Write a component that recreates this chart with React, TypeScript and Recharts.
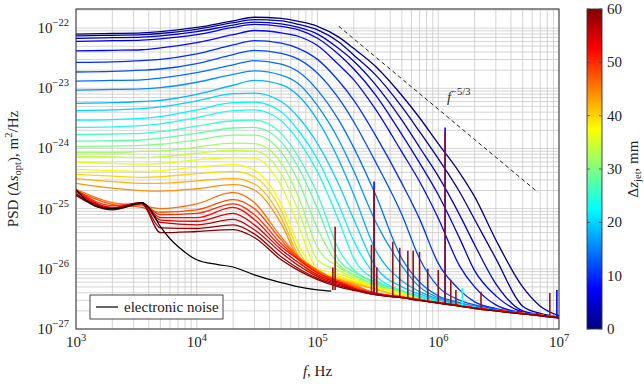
import React from 'react';
import { LineChart, Line, XAxis, YAxis, CartesianGrid, ReferenceDot } from 'recharts';

// frequency grid (Hz) shared by all Δz_jet curves
const FREQS = [1e3, 2e3, 3.5e3, 5e3, 1e4, 2e4, 3e4, 5e4, 7e4, 1e5, 1.5e5, 2e5, 3e5, 5e5, 7e5, 1e6, 1.5e6, 2e6, 3e6, 5e6, 7e6, 1e7];

// Δz_jet of each curve, mm
const DZ = [0, 2, 4, 6, 8, 10, 12, 14, 16, 18, 20, 22, 24, 26, 28, 30, 32, 34, 36, 38, 40, 42, 44, 46, 48, 50, 52, 54, 56, 58, 60];

// log10 PSD at FREQS, one array per Δz_jet
const psd00 = [-22.10, -22.09, -22.08, -22.06, -21.99, -21.88, -21.82, -21.84, -21.89, -21.97, -22.15, -22.34, -22.63, -23.12, -23.49, -23.92, -24.40, -24.80, -25.52, -26.30, -26.62, -26.78];
const psd02 = [-22.13, -22.12, -22.11, -22.09, -22.02, -21.91, -21.86, -21.88, -21.94, -22.03, -22.23, -22.45, -22.77, -23.31, -23.72, -24.17, -24.72, -25.18, -25.83, -26.62, -26.74, -26.80];
const psd04 = [-22.17, -22.16, -22.15, -22.13, -22.06, -21.95, -21.90, -21.93, -21.99, -22.10, -22.34, -22.55, -22.93, -23.53, -23.98, -24.46, -25.10, -25.60, -26.25, -26.70, -26.76, -26.81];
const psd06 = [-22.22, -22.21, -22.20, -22.18, -22.11, -21.99, -21.94, -21.97, -22.03, -22.17, -22.44, -22.68, -23.10, -23.77, -24.24, -24.77, -25.49, -26.03, -26.45, -26.72, -26.77, -26.81];
const psd08 = [-22.38, -22.37, -22.36, -22.33, -22.24, -22.11, -22.04, -22.08, -22.14, -22.29, -22.61, -22.86, -23.34, -24.06, -24.55, -25.16, -25.95, -26.30, -26.60, -26.73, -26.77, -26.81];
const psd10 = [-22.57, -22.56, -22.54, -22.52, -22.43, -22.28, -22.21, -22.25, -22.34, -22.52, -22.88, -23.20, -23.77, -24.58, -25.17, -25.91, -26.35, -26.55, -26.66, -26.73, -26.77, -26.81];
const psd12 = [-22.73, -22.72, -22.70, -22.68, -22.59, -22.44, -22.37, -22.42, -22.52, -22.75, -23.17, -23.56, -24.21, -25.10, -25.83, -26.30, -26.52, -26.60, -26.67, -26.73, -26.77, -26.81];
const psd14 = [-22.88, -22.87, -22.86, -22.83, -22.74, -22.61, -22.54, -22.60, -22.73, -23.03, -23.53, -23.99, -24.75, -25.83, -26.22, -26.45, -26.56, -26.62, -26.68, -26.74, -26.77, -26.81];
const psd16 = [-23.03, -23.02, -23.01, -22.99, -22.90, -22.77, -22.71, -22.78, -22.93, -23.29, -23.86, -24.38, -25.20, -25.95, -26.30, -26.48, -26.57, -26.63, -26.69, -26.74, -26.77, -26.81];
const psd18 = [-23.25, -23.24, -23.22, -23.20, -23.10, -22.95, -22.87, -22.94, -23.13, -23.53, -24.19, -24.77, -25.67, -26.20, -26.38, -26.50, -26.58, -26.63, -26.69, -26.74, -26.77, -26.81];
const psd20 = [-23.37, -23.36, -23.34, -23.31, -23.21, -23.09, -23.08, -23.22, -23.49, -23.92, -24.60, -25.18, -25.95, -26.30, -26.42, -26.52, -26.59, -26.64, -26.69, -26.74, -26.77, -26.81];
const psd22 = [-23.53, -23.52, -23.50, -23.47, -23.36, -23.24, -23.23, -23.39, -23.71, -24.18, -24.94, -25.54, -26.10, -26.36, -26.45, -26.54, -26.60, -26.64, -26.69, -26.74, -26.77, -26.81];
const psd24 = [-23.65, -23.64, -23.62, -23.59, -23.49, -23.37, -23.36, -23.54, -23.88, -24.39, -25.20, -25.83, -26.18, -26.38, -26.47, -26.55, -26.60, -26.64, -26.69, -26.74, -26.77, -26.81];
const psd26 = [-23.77, -23.76, -23.75, -23.72, -23.63, -23.54, -23.53, -23.75, -24.15, -24.76, -25.68, -26.02, -26.22, -26.37, -26.49, -26.56, -26.61, -26.65, -26.69, -26.74, -26.77, -26.81];
const psd28 = [-23.88, -23.87, -23.86, -23.83, -23.75, -23.66, -23.65, -23.89, -24.33, -25.00, -25.85, -26.05, -26.24, -26.38, -26.50, -26.56, -26.61, -26.65, -26.69, -26.74, -26.77, -26.81];
const psd30 = [-23.97, -23.96, -23.95, -23.93, -23.86, -23.78, -23.78, -24.06, -24.56, -25.33, -25.93, -26.10, -26.26, -26.39, -26.50, -26.56, -26.61, -26.65, -26.69, -26.74, -26.77, -26.81];
const psd32 = [-24.07, -24.07, -24.05, -24.04, -23.98, -23.91, -23.92, -24.24, -24.82, -25.65, -25.97, -26.12, -26.28, -26.40, -26.50, -26.56, -26.61, -26.65, -26.69, -26.74, -26.77, -26.81];
const psd34 = [-24.13, -24.14, -24.15, -24.14, -24.08, -24.03, -24.04, -24.42, -25.05, -25.85, -26.03, -26.15, -26.29, -26.40, -26.50, -26.56, -26.61, -26.65, -26.69, -26.74, -26.77, -26.81];
const psd36 = [-24.23, -24.25, -24.26, -24.25, -24.19, -24.15, -24.16, -24.62, -25.30, -26.00, -26.08, -26.18, -26.30, -26.41, -26.51, -26.56, -26.61, -26.65, -26.69, -26.74, -26.77, -26.81];
const psd38 = [-24.35, -24.37, -24.38, -24.37, -24.31, -24.27, -24.36, -24.92, -25.60, -26.05, -26.12, -26.20, -26.31, -26.42, -26.51, -26.56, -26.61, -26.65, -26.69, -26.74, -26.77, -26.81];
const psd40 = [-24.43, -24.46, -24.48, -24.47, -24.42, -24.38, -24.47, -25.03, -25.71, -26.08, -26.15, -26.22, -26.33, -26.46, -26.51, -26.56, -26.61, -26.65, -26.69, -26.74, -26.77, -26.81];
const psd42 = [-24.50, -24.55, -24.58, -24.58, -24.54, -24.50, -24.59, -25.15, -25.80, -26.10, -26.17, -26.24, -26.34, -26.46, -26.51, -26.56, -26.61, -26.65, -26.69, -26.74, -26.77, -26.81];
const psd44 = [-24.58, -24.66, -24.70, -24.71, -24.67, -24.60, -24.69, -25.25, -25.85, -26.12, -26.19, -26.26, -26.41, -26.47, -26.51, -26.56, -26.61, -26.65, -26.69, -26.74, -26.77, -26.81];
const psd46 = [-24.68, -24.90, -24.95, -25.00, -24.92, -24.73, -24.90, -25.47, -25.80, -26.02, -26.20, -26.28, -26.40, -26.47, -26.51, -26.56, -26.61, -26.65, -26.69, -26.74, -26.77, -26.81];
const psd48 = [-24.70, -24.93, -24.98, -25.06, -25.02, -24.85, -25.00, -25.52, -25.82, -26.04, -26.20, -26.30, -26.40, -26.47, -26.51, -26.56, -26.61, -26.65, -26.69, -26.74, -26.77, -26.81];
const psd50 = [-24.69, -24.95, -24.91, -25.10, -25.08, -24.92, -25.10, -25.58, -25.84, -26.06, -26.22, -26.32, -26.41, -26.47, -26.52, -26.56, -26.61, -26.65, -26.69, -26.74, -26.77, -26.81];
const psd52 = [-24.70, -24.98, -24.90, -25.15, -25.15, -24.98, -25.18, -25.63, -25.85, -26.07, -26.22, -26.32, -26.41, -26.47, -26.52, -26.56, -26.61, -26.65, -26.69, -26.74, -26.77, -26.81];
const psd54 = [-24.72, -24.99, -24.90, -25.19, -25.21, -25.08, -25.27, -25.68, -25.90, -26.10, -26.24, -26.33, -26.42, -26.48, -26.52, -26.57, -26.61, -26.65, -26.69, -26.74, -26.77, -26.81];
const psd56 = [-24.75, -25.00, -24.90, -25.23, -25.27, -25.18, -25.35, -25.73, -25.95, -26.13, -26.26, -26.34, -26.42, -26.48, -26.52, -26.57, -26.62, -26.65, -26.70, -26.75, -26.78, -26.81];
const psd58 = [-24.76, -25.01, -24.91, -25.32, -25.33, -25.27, -25.42, -25.80, -26.00, -26.16, -26.28, -26.35, -26.43, -26.48, -26.52, -26.57, -26.62, -26.66, -26.70, -26.75, -26.78, -26.82];
const psd60 = [-24.78, -25.02, -24.92, -25.40, -25.38, -25.35, -25.48, -25.85, -26.03, -26.18, -26.30, -26.36, -26.43, -26.48, -26.53, -26.57, -26.62, -26.66, -26.70, -26.75, -26.78, -26.82];

const CURVES = [psd00, psd02, psd04, psd06, psd08, psd10, psd12, psd14, psd16, psd18, psd20, psd22, psd24, psd26, psd28, psd30, psd32, psd34, psd36, psd38, psd40, psd42, psd44, psd46, psd48, psd50, psd52, psd54, psd56, psd58, psd60];

// electronic noise (log10 PSD)
const NOISE_F = [1e3, 1.2e3, 1.5e3, 2e3, 2.5e3, 3e3, 3.5e3, 4e3, 5e3, 6e3, 7e3, 1e4, 1.5e4, 2e4, 3e4, 5e4, 7e4, 1e5, 1.3e5];
const NOISE_PSD = [-24.68, -24.85, -24.97, -25.00, -24.98, -24.93, -24.90, -24.98, -25.30, -25.50, -25.63, -25.85, -25.93, -25.97, -26.10, -26.23, -26.30, -26.35, -26.37];

// narrow-band spikes: frequency, floor and peak (log10), and the Δz_jet curve they belong to
const SPIKE_F = [1.34e5, 1.4e5, 2.8e5, 2.94e5, 2.94e5, 3.1e5, 4.2e5, 4.8e5, 5.6e5, 6.2e5, 7.0e5, 8.2e5, 1.0e6, 1.14e6, 1.14e6, 1.27e6, 1.4e6, 1.58e6, 2.26e6, 8.4e6, 9.6e6];
const SPIKE_BASE = [-26.35, -26.35, -26.42, -26.42, -26.42, -26.43, -26.46, -26.47, -26.48, -26.49, -26.50, -26.52, -26.55, -26.57, -26.57, -26.58, -26.60, -26.61, -26.65, -26.77, -26.80];
const SPIKE_TOP = [-25.98, -25.30, -25.60, -24.55, -24.68, -25.98, -25.55, -25.65, -25.70, -25.70, -25.72, -26.00, -26.02, -23.65, -23.72, -26.18, -26.35, -26.32, -26.38, -26.40, -26.35];
const SPIKE_DZ = [60, 60, 60, 8, 60, 60, 60, 60, 60, 60, 60, 60, 60, 8, 60, 60, 60, 24, 60, 60, 8];

// f^{-5/3} guide line
const SLOPE_F = [1.5e5, 6.7e6];
const SLOPE_PSD = [-21.97, -24.73];

const X_DECADES = [3, 4, 5, 6, 7];
const Y_DECADES = [-27, -26, -25, -24, -23, -22];
const Y_TOP = -21.683;
const CBAR_TICKS = [0, 10, 20, 30, 40, 50, 60];
const DZ_MAX = 60;

const FONT = "'Liberation Serif', 'Times New Roman', serif";
const W = 644;
const H = 384;
const PLOT = { left: 76, top: 9, right: 559, bottom: 329 };

// pgfplots jet colormap
const JET: [number, number[]][] = [
  [0, [0, 0, 128]],
  [0.125, [0, 0, 255]],
  [0.375, [0, 255, 255]],
  [0.625, [255, 255, 0]],
  [0.875, [255, 0, 0]],
  [1, [128, 0, 0]],
];
function jet(t: number) {
  for (let i = 1; i < JET.length; i++) {
    const [t1, c1] = JET[i];
    const [t0, c0] = JET[i - 1];
    if (t <= t1) {
      const a = (t - t0) / (t1 - t0);
      const c = c0.map((v, j) => Math.round(v + (c1[j] - v) * a));
      return `rgb(${c[0]},${c[1]},${c[2]})`;
    }
  }
  return 'rgb(128,0,0)';
}

const minorTicks = (lo: number, hi: number) => {
  const out: number[] = [];
  for (let e = lo; e <= hi; e++) for (let m = 1; m <= 9; m++) out.push(m * Math.pow(10, e));
  return out;
};
const X_TICKS = minorTicks(X_DECADES[0], X_DECADES[X_DECADES.length - 1]).filter((v) => v <= 1e7 * 1.0001);
const Y_TICKS = minorTicks(Y_DECADES[0], Y_DECADES[Y_DECADES.length - 1]).filter((v) => v <= Math.pow(10, Y_TOP));

const expOf = (v: number) => {
  const e = Math.round(Math.log10(v));
  return Math.abs(v / Math.pow(10, e) - 1) < 1e-6 ? e : null;
};
const fmtExp = (e: number) => (e < 0 ? `\u2212${-e}` : `${e}`);

function XTick(props: any) {
  const { x, y, payload } = props;
  const e = expOf(payload.value);
  if (e === null) return <g />;
  return (
    <text x={x} y={y + 18} textAnchor="middle" fontFamily={FONT} fontSize={15} fill="#222">
      10<tspan dy={-6} fontSize={10.5}>{fmtExp(e)}</tspan>
    </text>
  );
}

function YTick(props: any) {
  const { x, y, payload } = props;
  const e = expOf(payload.value);
  if (e === null) return <g />;
  return (
    <text x={x - 7} y={y + 5} textAnchor="end" fontFamily={FONT} fontSize={15} fill="#222">
      10<tspan dy={-7} fontSize={10.5}>{fmtExp(e)}</tspan>
    </text>
  );
}

function SlopeLabel(props: any) {
  const { viewBox } = props;
  return (
    <text x={viewBox.x} y={viewBox.y} fontFamily={FONT} fontSize={15} fill="#333">
      <tspan fontStyle="italic">f</tspan>
      <tspan dy={-7} fontSize={10.5}>{'\u22125/3'}</tspan>
    </text>
  );
}

const toPts = (fs: number[], ls: number[]) => fs.map((f, i) => ({ f, v: Math.pow(10, ls[i]) }));

export default function App() {
  const cbH = PLOT.bottom - PLOT.top;
  return (
    <div style={{ position: 'absolute', left: 0, top: 0, width: W, height: H, background: '#fff' }}>
      <LineChart width={W} height={H} margin={{ top: PLOT.top, right: W - PLOT.right, bottom: 15, left: 16 }}>
        <CartesianGrid stroke="#c9c9c9" strokeWidth={0.8} />
        <XAxis
          dataKey="f"
          type="number"
          scale="log"
          domain={[1e3, 1e7]}
          allowDataOverflow
          ticks={X_TICKS}
          tick={<XTick />}
          tickSize={0}
          tickMargin={0}
          axisLine={false}
          tickLine={false}
          height={40}
          interval={0}
        />
        <YAxis
          type="number"
          scale="log"
          domain={[1e-27, Math.pow(10, Y_TOP)]}
          allowDataOverflow
          ticks={Y_TICKS}
          tick={<YTick />}
          tickSize={0}
          tickMargin={0}
          axisLine={false}
          tickLine={false}
          width={60}
          interval={0}
        />
        {CURVES.map((c, k) => (
          <Line
            key={`dz${DZ[k]}`}
            data={toPts(FREQS, c)}
            dataKey="v"
            type="monotone"
            stroke={jet(DZ[k] / DZ_MAX)}
            strokeWidth={1.3}
            dot={false}
            isAnimationActive={false}
          />
        ))}
        <Line
          data={toPts(NOISE_F, NOISE_PSD)}
          dataKey="v"
          type="monotone"
          stroke="#000"
          strokeWidth={1.2}
          dot={false}
          isAnimationActive={false}
        />
        {SPIKE_F.map((f, i) => (
          <Line
            key={`sp${i}`}
            data={toPts([f, f], [SPIKE_BASE[i], SPIKE_TOP[i]])}
            dataKey="v"
            stroke={SPIKE_DZ[i] === DZ_MAX ? '#9a1010' : jet(SPIKE_DZ[i] / DZ_MAX)}
            strokeWidth={1.6}
            dot={false}
            isAnimationActive={false}
          />
        ))}
        <Line
          data={toPts(SLOPE_F, SLOPE_PSD)}
          dataKey="v"
          stroke="#222"
          strokeWidth={1}
          strokeDasharray="4 3"
          dot={false}
          isAnimationActive={false}
        />
        <ReferenceDot x={1.18e6} y={Math.pow(10, -23.23)} r={0} stroke="none" fill="none" label={<SlopeLabel />} />
      </LineChart>

      <svg width={W} height={H} style={{ position: 'absolute', left: 0, top: 0, pointerEvents: 'none' }}>
        <defs>
          <linearGradient id="jet" x1="0" y1="1" x2="0" y2="0">
            {JET.map(([t, c]) => (
              <stop key={t} offset={t} stopColor={`rgb(${c[0]},${c[1]},${c[2]})`} />
            ))}
          </linearGradient>
        </defs>
        <rect
          x={PLOT.left}
          y={PLOT.top}
          width={PLOT.right - PLOT.left}
          height={PLOT.bottom - PLOT.top}
          fill="none"
          stroke="#333"
          strokeWidth={1}
        />

        {/* legend */}
        <rect x={90} y={295} width={133} height={24} fill="#fff" stroke="#333" strokeWidth={0.9} />
        <line x1={96} x2={118} y1={307} y2={307} stroke="#000" strokeWidth={1.2} />
        <text x={124} y={312} fontFamily={FONT} fontSize={15} fill="#222">
          electronic noise
        </text>

        {/* axis titles */}
        <text x={(PLOT.left + PLOT.right) / 2} y={376} textAnchor="middle" fontFamily={FONT} fontSize={15} fill="#222">
          <tspan fontStyle="italic">f</tspan>, Hz
        </text>
        <text
          transform={`translate(18, ${(PLOT.top + PLOT.bottom) / 2}) rotate(-90)`}
          textAnchor="middle"
          fontFamily={FONT}
          fontSize={15}
          fill="#222"
        >
          PSD (Δ<tspan fontStyle="italic">s</tspan>
          <tspan dy={3} fontSize={10.5}>opt</tspan>
          <tspan dy={-3}>), m</tspan>
          <tspan dy={-6} fontSize={10.5}>2</tspan>
          <tspan dy={6}>/Hz</tspan>
        </text>

        {/* colorbar */}
        <rect x={587} y={PLOT.top} width={15} height={cbH} fill="url(#jet)" stroke="#333" strokeWidth={0.9} />
        {CBAR_TICKS.map((t) => {
          const y = PLOT.bottom - (t / DZ_MAX) * cbH;
          return (
            <g key={t}>
              <line x1={587} x2={590} y1={y} y2={y} stroke="#444" strokeWidth={0.8} />
              <line x1={599} x2={602} y1={y} y2={y} stroke="#444" strokeWidth={0.8} />
              <text x={607} y={y + 5} fontFamily={FONT} fontSize={15} fill="#222">
                {t}
              </text>
            </g>
          );
        })}
        <text
          transform={`translate(638, ${(PLOT.top + PLOT.bottom) / 2}) rotate(-90)`}
          textAnchor="middle"
          fontFamily={FONT}
          fontSize={15}
          fill="#222"
        >
          Δ<tspan fontStyle="italic">z</tspan>
          <tspan dy={3} fontSize={10.5}>jet</tspan>
          <tspan dy={-3}>, mm</tspan>
        </text>
      </svg>
    </div>
  );
}
